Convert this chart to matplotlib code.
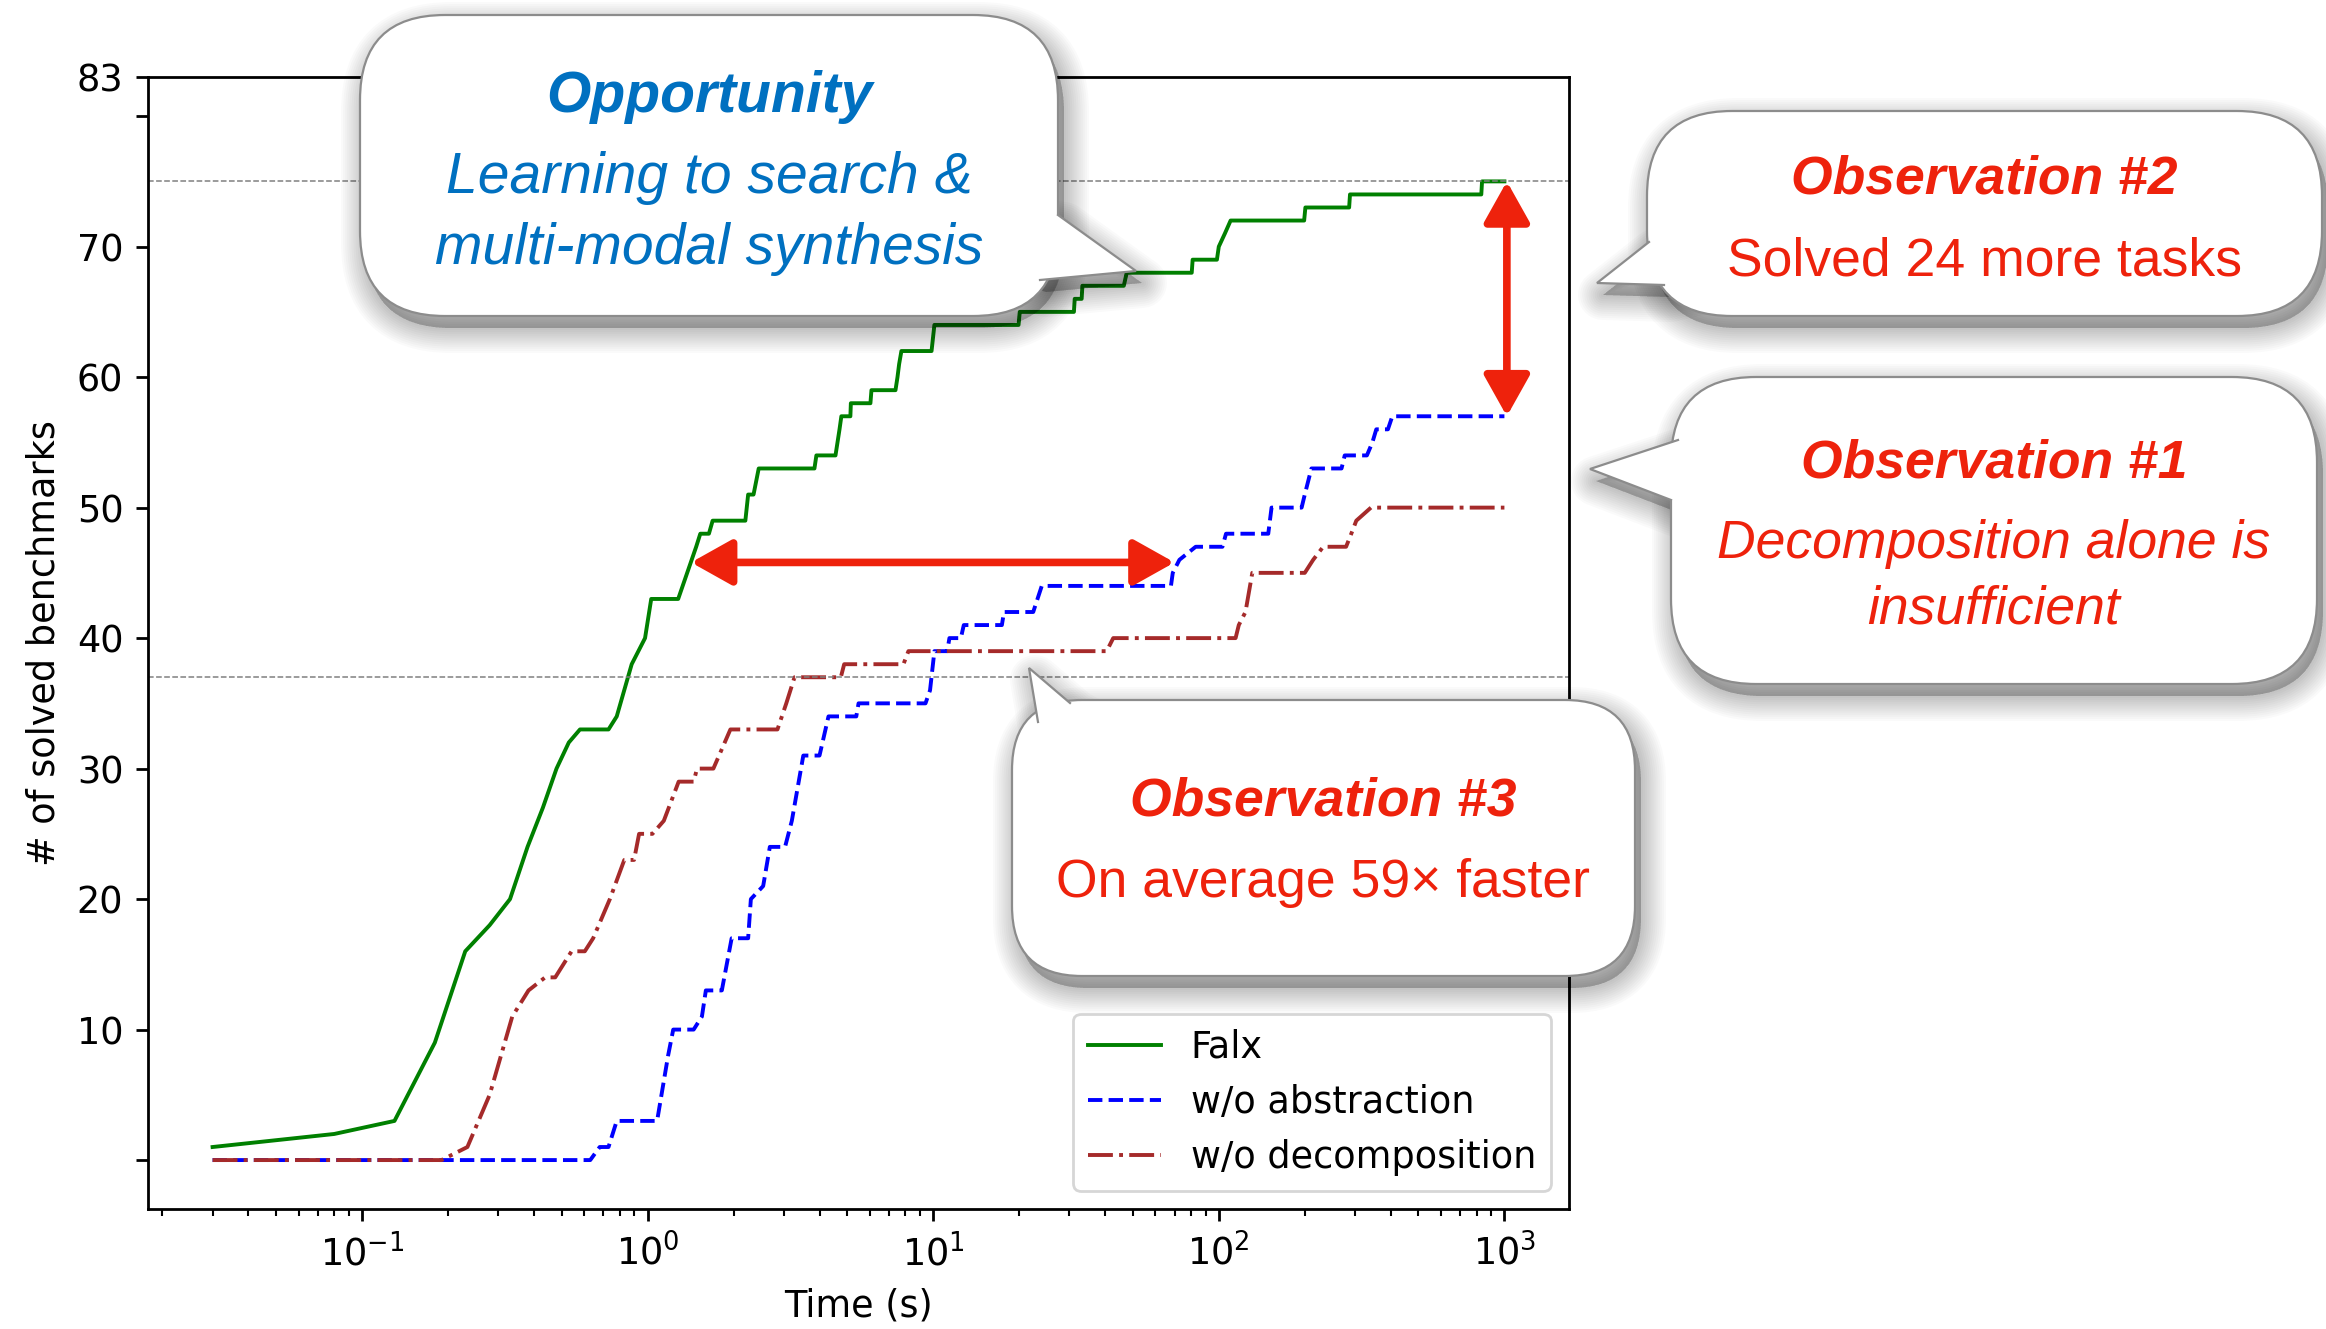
import matplotlib
matplotlib.use('Agg')
import matplotlib.pyplot as plt
from matplotlib.patches import FancyBboxPatch, Polygon
import numpy as np

# cumulative number of solved benchmarks vs. time (s)
falx_time = [0.03, 0.08, 0.13, 0.18, 0.23, 0.28, 0.33, 0.38, 0.43, 0.48, 0.53, 0.58,
             0.73, 0.78, 0.88, 0.98, 1.03, 1.28, 1.48, 1.53, 1.64, 1.69, 2.2, 2.25,
             2.35, 2.45, 3.84, 3.9, 4.55, 4.7, 4.77, 5.13, 5.15, 6.03, 6.08, 7.38,
             7.5, 7.6, 7.74, 9.87, 10.1, 19.9, 20.1, 31.1, 31.3, 33.1, 33.3, 46.5,
             47.6, 80.4, 81, 98.5, 100, 105, 110, 199, 201, 286, 288, 830, 835, 1000]
falx_solved = [1, 2, 3, 9, 16, 18, 20, 24, 27, 30, 32, 33,
               33, 34, 38, 40, 43, 43, 47, 48, 48, 49, 49, 51,
               51, 53, 53, 54, 54, 56, 57, 57, 58, 58, 59, 59,
               60, 61, 62, 62, 64, 64, 65, 65, 66, 66, 67, 67,
               68, 68, 69, 69, 70, 71, 72, 72, 73, 73, 74, 74, 75, 75]

noabs_time = [0.03, 0.63, 0.68, 0.73, 0.78, 1.08, 1.18, 1.23, 1.45, 1.55, 1.6, 1.82,
              1.97, 2.25, 2.3, 2.54, 2.68, 3.03, 3.2, 3.51, 4.0, 4.3, 5.38, 5.48,
              9.4, 9.75, 10.1, 11.2, 11.4, 12.5, 12.8, 17.4, 17.7, 22.4, 24, 68,
              69, 72.8, 83, 103, 106, 149, 153, 195, 200, 211, 269, 276, 330, 345,
              356, 391, 405, 1000]
noabs_solved = [0, 0, 1, 1, 3, 3, 8, 10, 10, 11, 13, 13,
                17, 17, 20, 21, 24, 24, 26, 31, 31, 34, 34, 35,
                35, 36, 39, 39, 40, 40, 41, 41, 42, 42, 44, 44,
                45, 46, 47, 47, 48, 48, 50, 50, 51, 53, 53, 54, 54, 55,
                56, 56, 57, 57]

nodec_time = [0.03, 0.19, 0.234, 0.28, 0.336, 0.383, 0.438, 0.475, 0.542, 0.603,
              0.645, 0.738, 0.829, 0.897, 0.934, 1.04, 1.14, 1.285, 1.45, 1.49,
              1.70, 1.95, 2.85, 3.06, 3.27, 4.75, 4.88, 7.87, 8.19, 40.5, 42.7,
              114.5, 117.5, 124, 131, 200, 214, 232, 279, 291, 303, 341, 1000]
nodec_solved = [0, 0, 1, 5, 11, 13, 14, 14, 16, 16,
                17, 20, 23, 23, 25, 25, 26, 29, 29, 30,
                30, 33, 33, 35, 37, 37, 38, 38, 39, 39, 40,
                40, 41, 42, 45, 45, 46, 47, 47, 48, 49, 50, 50]

series_labels = ['Falx', 'w/o abstraction', 'w/o decomposition']
ref_levels = [75, 37]
ytick_values = [0, 10, 20, 30, 40, 50, 60, 70, 80, 83]
ytick_labels = ['', '10', '20', '30', '40', '50', '60', '70', '', '83']

opportunity_text = ['Opportunity', 'Learning to search &', 'multi-modal synthesis']
obs2_text = ['Observation #2', 'Solved 24 more tasks']
obs1_text = ['Observation #1', 'Decomposition alone is', 'insufficient']
obs3_text = ['Observation #3', 'On average 59\u00d7 faster']

BLUE_TXT = '#0070C0'
RED = '#EE220C'
EDGE = '#8c8c8c'

# the original was drawn at roughly 2.6x matplotlib's default sizes
plt.rcParams.update({
    'font.size': 26.4,
    'lines.linewidth': 2.8,
    'axes.linewidth': 2.0,
    'xtick.major.size': 8.9, 'xtick.major.width': 2.0,
    'xtick.minor.size': 5.1, 'xtick.minor.width': 1.5,
    'xtick.major.pad': 8.9, 'xtick.minor.pad': 8.6,
    'ytick.major.size': 8.9, 'ytick.major.width': 2.0,
    'ytick.major.pad': 8.9,
    'axes.labelpad': 10.2,
})

fig = plt.figure(figsize=(23.26, 13.29), dpi=100)
ax = fig.add_axes([148 / 2326, 120 / 1329, 1421 / 2326, 1132 / 1329])

ax.plot(falx_time, falx_solved, color='green', linestyle='-', label=series_labels[0])
ax.plot(noabs_time, noabs_solved, color='blue', linestyle='--', label=series_labels[1])
ax.plot(nodec_time, nodec_solved, color='brown', linestyle='-.', label=series_labels[2])
for lvl in ref_levels:
    ax.axhline(lvl, color='gray', linestyle='--', linewidth=1.1)

ax.set_xscale('log')
ax.set_ylim(-3.75, 83)
ax.set_yticks(ytick_values)
ax.set_yticklabels(ytick_labels)
ax.set_xlabel('Time (s)')
ax.set_ylabel('# of solved benchmarks')
leg = ax.legend(loc='lower right')
leg.get_frame().set_linewidth(2.0)

# red double arrows (gap annotations)
arrow_kw = dict(arrowstyle='<|-|>,head_length=25,head_width=14', color=RED, lw=5.5,
                shrinkA=0, shrinkB=0, mutation_scale=1)
ax.annotate('', xy=(1.42, 45.8), xytext=(70, 45.8), arrowprops=arrow_kw, zorder=6)
ax.annotate('', xy=(1020, 75), xytext=(1020, 57), arrowprops=arrow_kw, zorder=6)

# overlay in pixel coordinates for the speech-bubble callouts
ov = fig.add_axes([0, 0, 1, 1], zorder=10)
ov.set_xlim(0, 2326)
ov.set_ylim(1329, 0)
ov.axis('off')


def callout(box, radius, tail, ys, styles, lines, color, size):
    x0, y0, x1, y1 = box
    w, h = x1 - x0, y1 - y0
    tip, b1, b2 = tail
    cx, cy = (x0 + x1) / 2, (y0 + y1) / 2

    def inward(p, d=30):
        vx, vy = cx - p[0], cy - p[1]
        n = np.hypot(vx, vy)
        return (p[0] + vx / n * d, p[1] + vy / n * d)

    tail_pts = [b1, tip, b2, inward(b2), inward(b1)]
    dx, dy = 6, 12
    # soft drop shadow
    for i in range(12):
        lw = 3.0 * (12 - i)
        ov.add_patch(FancyBboxPatch((x0 + dx, y0 + dy), w, h,
                                    boxstyle=f'round,pad=0,rounding_size={radius}',
                                    fc='k', ec='k', lw=lw, alpha=0.018, joinstyle='round'))
        ov.add_patch(Polygon([(p[0] + dx, p[1] + dy) for p in tail_pts], closed=True,
                             fc='k', ec='k', lw=lw, alpha=0.018, joinstyle='round'))
    ov.add_patch(FancyBboxPatch((x0, y0), w, h,
                                boxstyle=f'round,pad=0,rounding_size={radius}',
                                fc='white', ec=EDGE, lw=1.6, zorder=3))
    ov.add_patch(Polygon(tail_pts, closed=True, fc='white', ec='none', zorder=4))
    ov.plot([b1[0], tip[0], b2[0]], [b1[1], tip[1], b2[1]], color=EDGE, lw=1.6,
            solid_joinstyle='miter', zorder=5)
    for txt, y, st in zip(lines, ys, styles):
        ov.text(cx, y + 4, txt, ha='center', va='center', color=color, fontsize=size,
                family='Liberation Sans',
                fontweight='bold' if st == 'bold' else 'normal',
                fontstyle='normal' if st == 'normal' else 'italic', zorder=6)


callout((360, 15, 1058, 316), 85, ((1136, 271), (1058, 215), (1040, 280)),
        [93, 174, 245], ['bold', 'italic', 'italic'], opportunity_text, BLUE_TXT, 41)
callout((1647, 111, 2322, 316), 85, ((1597, 283), (1649, 242), (1664, 285)),
        [175, 257], ['bold', 'normal'], obs2_text, RED, 38.5)
callout((1671, 377, 2317, 684), 85, ((1590, 469), (1678, 440), (1671, 500)),
        [460, 540, 606], ['bold', 'italic', 'italic'], obs1_text, RED, 38.5)
callout((1012, 700, 1635, 976), 70, ((1029, 668), (1038, 722), (1070, 703)),
        [797, 879], ['bold', 'normal'], obs3_text, RED, 38.5)

fig.savefig('out.png', dpi=100)
